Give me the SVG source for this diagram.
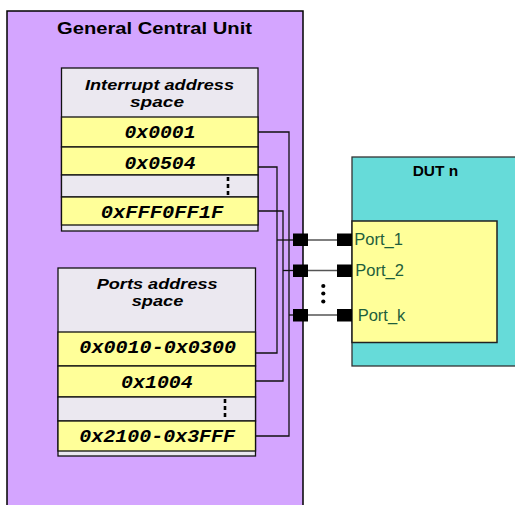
<svg xmlns="http://www.w3.org/2000/svg" width="515" height="505" viewBox="0 0 515 505">
<style>
.row{fill:#FFFF99;stroke:#111;stroke-width:1.3}
.gray{fill:#EBE8F0;stroke:#111;stroke-width:1.3}
.mono{font-family:"Liberation Mono","Courier New",monospace;font-weight:bold;font-style:italic;font-size:17.5px;fill:#000;text-anchor:middle}
.hdr{font-family:"Liberation Sans",Arial,sans-serif;font-weight:bold;font-style:italic;font-size:15px;fill:#000;text-anchor:middle}
.title{font-family:"Liberation Sans",Arial,sans-serif;font-weight:bold;font-size:16.5px;fill:#000;text-anchor:middle}
.port{font-family:"Liberation Sans",Arial,sans-serif;font-size:16.5px;fill:#1E5E3C}
.wire{fill:none;stroke:#111;stroke-width:1.3}
.link{stroke:#555;stroke-width:1.5}
.sq{fill:#000}
.dots{stroke:#000;stroke-width:2.6;stroke-dasharray:4 3}
</style>
<rect width="515" height="505" fill="#fff"/>
<g id="gcu">
<rect x="7" y="11" width="296" height="500" fill="#D4A5FF" stroke="#000" stroke-width="1.5"/>
<text class="title" x="154.5" y="33.5" textLength="195" lengthAdjust="spacingAndGlyphs">General Central Unit</text>
</g>
<g id="interrupt-space">
<rect class="gray" x="61.5" y="68" width="196.5" height="163"/>
<text class="hdr" x="159.5" y="89.5" textLength="149" lengthAdjust="spacingAndGlyphs">Interrupt address</text>
<text class="hdr" x="157" y="106.5" textLength="54" lengthAdjust="spacingAndGlyphs">space</text>
<rect class="row" x="61.5" y="117" width="196.5" height="30"/>
<text class="mono" x="160" y="138" textLength="71" lengthAdjust="spacingAndGlyphs">0x0001</text>
<rect class="row" x="61.5" y="147" width="196.5" height="28"/>
<text class="mono" x="160" y="168.5" textLength="71" lengthAdjust="spacingAndGlyphs">0x0504</text>
<rect class="gray" x="61.5" y="175" width="196.5" height="22"/>
<line class="dots" x1="228" y1="177" x2="228" y2="197"/>
<rect class="row" x="61.5" y="197" width="196.5" height="28"/>
<text class="mono" x="162" y="218" textLength="122.6" lengthAdjust="spacingAndGlyphs">0xFFF0FF1F</text>
</g>
<g id="ports-space">
<rect class="gray" x="58" y="268" width="197.5" height="188"/>
<text class="hdr" x="157.2" y="288.5" textLength="121" lengthAdjust="spacingAndGlyphs">Ports address</text>
<text class="hdr" x="157.5" y="305.5" textLength="51.6" lengthAdjust="spacingAndGlyphs">space</text>
<rect class="row" x="58" y="332" width="197.5" height="34"/>
<text class="mono" x="157.7" y="353" textLength="156.7" lengthAdjust="spacingAndGlyphs">0x0010-0x0300</text>
<rect class="row" x="58" y="366" width="197.5" height="31"/>
<text class="mono" x="156.9" y="387.7" textLength="71.7" lengthAdjust="spacingAndGlyphs">0x1004</text>
<rect class="gray" x="58" y="397" width="197.5" height="24"/>
<line class="dots" x1="225" y1="399" x2="225" y2="420"/>
<rect class="row" x="58" y="421" width="197.5" height="30"/>
<text class="mono" x="157.2" y="441.7" textLength="155.7" lengthAdjust="spacingAndGlyphs">0x2100-0x3FFF</text>
</g>
<g id="dut">
<rect x="352" y="157" width="170" height="209" fill="#66DBD9" stroke="#333" stroke-width="1.3"/>
<text class="title" x="435.5" y="176" textLength="45.6" lengthAdjust="spacingAndGlyphs" style="font-size:15px">DUT n</text>
<rect x="352" y="221" width="145" height="121.5" fill="#FFFF99" stroke="#222" stroke-width="1.5"/>
<text class="port" x="354.3" y="245">Port_1</text>
<text class="port" x="355.3" y="276">Port_2</text>
<text class="port" x="357.7" y="321">Port_k</text>
</g>
<g id="connectors">
<polyline class="wire" points="258,132 289,132 289,436 255.5,436"/>
<polyline class="wire" points="258,167 277,167 277,353 255.5,353"/>
<polyline class="wire" points="258,211 283,211 283,381 255.5,381"/>
<line class="wire" x1="277" y1="240" x2="293" y2="240"/>
<line class="wire" x1="283" y1="270.5" x2="293" y2="270.5"/>
<line class="wire" x1="289" y1="315" x2="293" y2="315"/>
<line class="link" x1="308" y1="240" x2="337" y2="240"/>
<line class="link" x1="308" y1="270.5" x2="337" y2="270.5"/>
<line class="link" x1="308" y1="315" x2="337" y2="315"/>
<rect class="sq" x="293" y="233.5" width="15" height="12.5"/>
<rect class="sq" x="337" y="233.5" width="15" height="12.5"/>
<rect class="sq" x="293" y="264.5" width="15" height="12.5"/>
<rect class="sq" x="337" y="264.5" width="15" height="12.5"/>
<rect class="sq" x="293" y="309" width="15" height="12.5"/>
<rect class="sq" x="337" y="309" width="15" height="12.5"/>
<circle cx="323.3" cy="286" r="2.1" fill="#000"/>
<circle cx="323.3" cy="293.5" r="2.1" fill="#000"/>
<circle cx="323.3" cy="301.5" r="2.1" fill="#000"/>
</g>
</svg>
